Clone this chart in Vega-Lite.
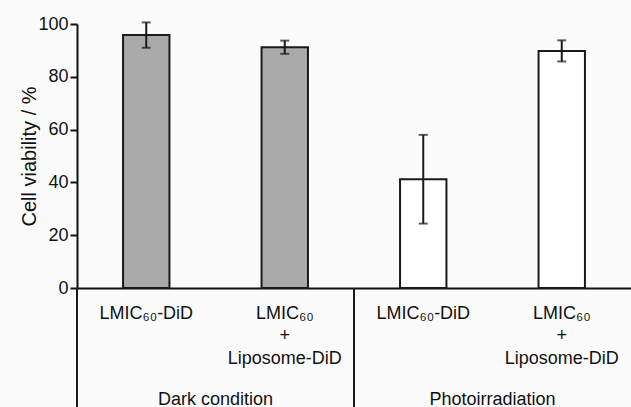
{
  "$schema": "https://vega.github.io/schema/vega-lite/v6.json",
  "autosize": "none",
  "padding": {"left": 77, "top": 24, "right": 0, "bottom": 119},
  "width": 554,
  "height": 264,
  "background": "#fbfbfb",
  "config": {
    "font": "Liberation Sans",
    "view": {"stroke": null},
    "axis": {"labelFont": "Liberation Sans", "titleFont": "Liberation Sans", "labelColor": "#111", "titleColor": "#111", "domainColor": "#111", "tickColor": "#111", "domainWidth": 2, "tickWidth": 2, "grid": false}
  },
  "layer": [
    {
      "data": {
        "values": [
          {"condition": "Dark condition", "label": "Dark condition|LMIC₆₀-DiD", "viability": 95.8, "err": 4.8},
          {"condition": "Dark condition", "label": "Dark condition|LMIC₆₀|+|Liposome-DiD", "viability": 91.2, "err": 2.5},
          {"condition": "Photoirradiation", "label": "Photoirradiation|LMIC₆₀-DiD", "viability": 41.2, "err": 16.8},
          {"condition": "Photoirradiation", "label": "Photoirradiation|LMIC₆₀|+|Liposome-DiD", "viability": 89.8, "err": 4.0}
        ]
      },
      "layer": [
        {
          "mark": {"type": "bar", "width": {"band": 0.335}, "stroke": "#1a1a1a", "strokeWidth": 2},
          "encoding": {
            "x": {
              "field": "label", "type": "nominal", "sort": null,
              "scale": {"paddingInner": 0, "paddingOuter": 0},
              "axis": {"orient": "bottom", "title": null, "ticks": false, "labelAngle": 0, "labelFontSize": 18, "labelPadding": 16, "labelLineHeight": 22.5, "labelBaseline": "top", "labelLimit": 300, "labelExpr": "slice(split(datum.label, '|'), 1)"}
            },
            "y": {
              "field": "viability", "type": "quantitative",
              "title": "Cell viability / %",
              "scale": {"domain": [0, 100], "nice": false},
              "axis": {"title": "Cell viability / %", "values": [0, 20, 40, 60, 80, 100], "tickSize": 7, "labelPadding": 2, "labelFontSize": 18, "titleFontSize": 20, "titleFontWeight": "normal", "titlePadding": -2}
            },
            "fill": {"field": "condition", "type": "nominal", "scale": {"range": ["#aaaaaa", "#ffffff"]}, "legend": null}
          }
        },
        {
          "mark": {"type": "errorbar", "ticks": {"size": 9, "thickness": 2, "color": "#1a1a1a"}, "rule": {"strokeWidth": 2, "color": "#1a1a1a"}},
          "encoding": {
            "x": {"field": "label", "type": "nominal", "sort": null},
            "y": {"field": "viability", "type": "quantitative", "title": "Cell viability / %"},
            "yError": {"field": "err"}
          }
        }
      ]
    },
    {
      "data": {"values": [{"condition": "Dark condition"}, {"condition": "Photoirradiation"}]},
      "mark": {"type": "rule", "color": "#1a1a1a", "strokeWidth": 2},
      "encoding": {
        "x": {
          "field": "condition", "type": "nominal", "bandPosition": 0, "sort": null,
          "scale": {"paddingInner": 0, "paddingOuter": 0},
          "axis": {"orient": "bottom", "title": null, "domain": false, "ticks": false, "labelAngle": 0, "labelFontSize": 18, "labelPadding": 102, "labelBaseline": "top", "labelLimit": 300}
        },
        "y": {"datum": 0, "type": "quantitative", "title": "Cell viability / %"},
        "y2": {"datum": -50}
      }
    }
  ],
  "resolve": {"scale": {"x": "independent"}, "axis": {"x": "independent"}}
}
